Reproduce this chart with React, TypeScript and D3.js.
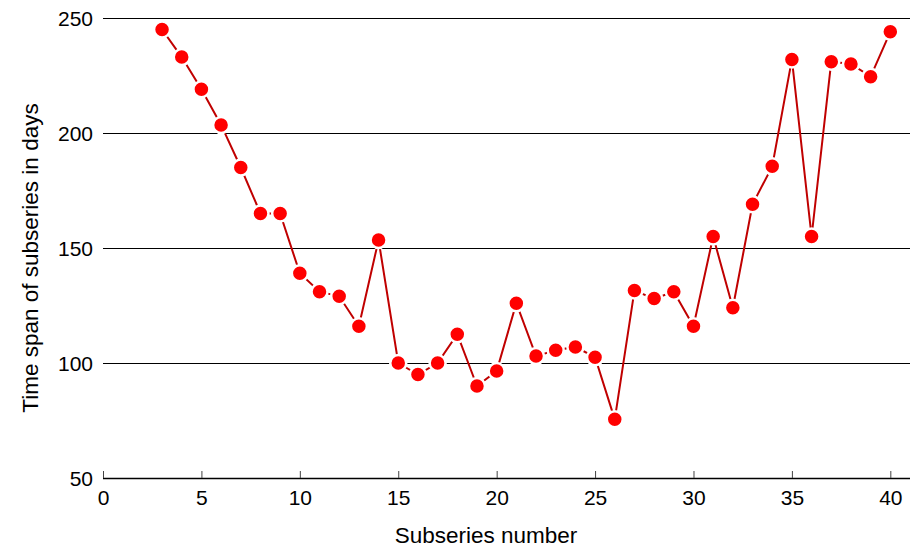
import React, { useRef, useEffect } from "react";
import * as d3 from "d3";

const subseries = [3, 4, 5, 6, 7, 8, 9, 10, 11, 12, 13, 14, 15, 16, 17, 18, 19, 20, 21, 22,
  23, 24, 25, 26, 27, 28, 29, 30, 31, 32, 33, 34, 35, 36, 37, 38, 39, 40];
const spanDays = [245, 233, 219, 203.5, 185, 165, 165, 139, 131, 129, 116, 153.5, 100, 95, 100, 112.5,
  90, 96.5, 126, 103, 105.5, 107, 102.5, 75.5, 131.5, 128, 131, 116, 155, 124, 169, 185.5,
  232, 155, 231, 230, 224.5, 244];
const xTicks = [0, 5, 10, 15, 20, 25, 30, 35, 40];
const yTicks = [50, 100, 150, 200, 250];

const App = () => {
  const ref = useRef<SVGSVGElement>(null);

  const layout = { width: 911, height: 547, left: 103, right: 1, top: 18, bottom: 69 };

  useEffect(() => {
    const svg = d3.select(ref.current);
    svg.selectAll("*").remove();

    const x = d3.scaleLinear().domain([0, 41]).range([layout.left, layout.width - layout.right]);
    const y = d3.scaleLinear().domain([50, 250]).range([layout.height - layout.bottom, layout.top]);

    const font = "Liberation Sans, Arial, sans-serif";

    // horizontal grid
    svg.append("g")
      .selectAll("line")
      .data(yTicks.slice(1))
      .join("line")
      .attr("x1", layout.left)
      .attr("x2", layout.width - layout.right)
      .attr("y1", d => Math.round(y(d)) + 0.5)
      .attr("y2", d => Math.round(y(d)) + 0.5)
      .attr("stroke", "#000")
      .attr("stroke-width", 1);

    // y labels
    svg.append("g")
      .selectAll("text")
      .data(yTicks)
      .join("text")
      .attr("x", layout.left - 10)
      .attr("y", d => y(d) + 1)
      .attr("dy", "0.35em")
      .attr("text-anchor", "end")
      .attr("font-family", font)
      .attr("font-size", 21)
      .text(d => d);

    // x axis
    const xAxis = svg.append("g")
      .attr("transform", `translate(0, ${y(50)})`)
      .call(d3.axisBottom(x).tickValues(xTicks).tickSize(-7).tickPadding(12));
    xAxis.select(".domain")
      .attr("d", `M${layout.left},0.5H${layout.width - layout.right}`)
      .attr("stroke-width", 1.6);
    xAxis.selectAll(".tick line").attr("stroke", "#444").attr("stroke-width", 1);
    xAxis.selectAll(".tick text")
      .attr("font-family", font)
      .attr("font-size", 21)
      .attr("fill", "#000");

    const pts = subseries.map((s, i) => ({ s, v: spanDays[i] }));

    const line = d3.line<{ s: number; v: number }>()
      .x(d => x(d.s))
      .y(d => y(d.v));

    svg.append("path")
      .datum(pts)
      .attr("d", line)
      .attr("fill", "none")
      .attr("stroke", "#c00000")
      .attr("stroke-width", 2);

    svg.append("g")
      .selectAll("circle")
      .data(pts)
      .join("circle")
      .attr("cx", d => x(d.s))
      .attr("cy", d => y(d.v))
      .attr("r", 8)
      .attr("fill", "#ff0000")
      .attr("stroke", "#fff")
      .attr("stroke-width", 2.5);

    svg.append("text")
      .attr("transform", `translate(${30}, ${y(150) + 10}) rotate(-90)`)
      .attr("text-anchor", "middle")
      .attr("dy", "0.35em")
      .attr("font-family", font)
      .attr("font-size", 22.5)
      .text("Time span of subseries in days");

    svg.append("text")
      .attr("x", 486)
      .attr("y", 535)
      .attr("dy", "0.35em")
      .attr("text-anchor", "middle")
      .attr("font-family", font)
      .attr("font-size", 22.5)
      .text("Subseries number");
  }, []);

  return (
    <svg ref={ref} width={911} height={547}
      style={{ position: "absolute", left: 0, top: 0, background: "#fff" }} />
  );
};

export default App;
